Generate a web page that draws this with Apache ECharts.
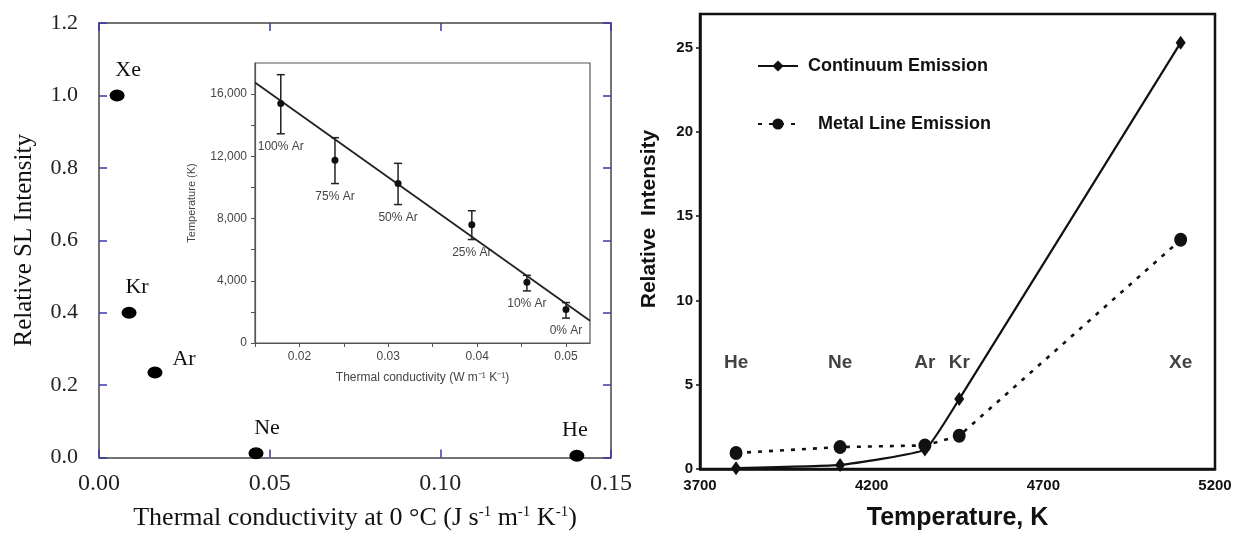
<!DOCTYPE html>
<html>
<head>
<meta charset="utf-8">
<script src="https://cdn.jsdelivr.net/npm/echarts@6/dist/echarts.min.js"></script>
<style>
  html, body { margin: 0; padding: 0; background: #fff; }
  #chart { width: 1239px; height: 536px; }
</style>
</head>
<body>
<div id="chart"></div>
<script>
// left panel: SL intensity vs thermal conductivity
const gases = ['Xe', 'Kr', 'Ar', 'Ne', 'He'];
const gasConductivity = [0.0053, 0.0088, 0.0164, 0.046, 0.140];
const gasIntensity = [1.0, 0.4, 0.235, 0.012, 0.005];

// inset: temperature vs thermal conductivity of Ar mixtures
const mixLabels = ['100% Ar', '75% Ar', '50% Ar', '25% Ar', '10% Ar', '0% Ar'];
const mixConductivity = [0.0179, 0.0240, 0.0311, 0.0394, 0.0456, 0.0500];
const mixTemperature = [15400, 11750, 10250, 7600, 3900, 2150];
const mixLow = [13450, 10250, 8900, 6650, 3350, 1600];
const mixHigh = [17250, 13200, 11550, 8500, 4350, 2600];
const fitLine = [[0.015, 16750], [0.0527, 1430]];

// right panel: emission vs temperature
const elements = ['He', 'Ne', 'Ar', 'Kr', 'Xe'];
const bubbleTemp = [3805, 4108, 4355, 4455, 5100];
const continuum = [0.05, 0.24, 1.15, 4.15, 25.3];
const metalLine = [0.95, 1.3, 1.4, 1.97, 13.6];
const elementLabelY = 6.3;

const serif = 'Liberation Serif';
const sans = 'Liberation Sans';
const blueTick = '#3a3aa8';

// label placement of the gas names in the left panel
const gasLabelPlace = {
  Xe: { position: 'top', offset: [11, 0] },
  Kr: { position: 'top', offset: [8, 0] },
  Ar: { position: 'right', offset: [2, -13] },
  Ne: { position: 'top', offset: [11, 0] },
  He: { position: 'top', offset: [-2, 0] }
};

const chart = echarts.init(document.getElementById('chart'));

const mainX = { type: 'value', gridIndex: 0, min: 0, max: 0.15, interval: 0.05 };
const mainY = { type: 'value', gridIndex: 0, min: 0, max: 1.2, interval: 0.2 };
const mainLine = { onZero: false, lineStyle: { color: '#444', width: 1.5 } };
const mainTick = { inside: true, length: 8, lineStyle: { color: blueTick, width: 1.5 } };

const option = {
  animation: false,
  backgroundColor: '#fff',
  grid: [
    { left: 99, top: 23, width: 512, height: 436 },
    { left: 255, top: 63, width: 335, height: 280, show: true, backgroundColor: '#fff',
      borderColor: '#555', borderWidth: 1.2, z: 3 },
    { left: 700, top: 14, width: 515, height: 459, show: true, borderColor: '#111', borderWidth: 2.5 }
  ],
  legend: {
    left: 752, top: 52, orient: 'vertical', itemGap: 40, itemWidth: 40, itemHeight: 14,
    data: ['Continuum Emission', 'Metal Line Emission'],
    formatter: name => name === 'Metal Line Emission' ? '   ' + name : ' ' + name,
    textStyle: { fontFamily: sans, fontWeight: 'bold', fontSize: 18, color: '#111' }
  },
  xAxis: [
    Object.assign({}, mainX, {
      position: 'bottom',
      name: 'Thermal conductivity at 0 °C (J s{sup|-1} m{sup|-1} K{sup|-1})',
      nameLocation: 'middle', nameGap: 47,
      nameTextStyle: { fontFamily: serif, fontSize: 26, color: '#111',
        rich: { sup: { fontFamily: serif, fontSize: 15, color: '#111', padding: [0, 0, 12, 0] } } },
      axisLine: mainLine,
      axisTick: mainTick,
      axisLabel: { fontFamily: serif, fontSize: 24, color: '#222', margin: 14,
        formatter: v => v.toFixed(2) },
      splitLine: { show: false }
    }),
    Object.assign({}, mainX, {
      position: 'top',
      axisLine: mainLine,
      axisTick: mainTick,
      axisLabel: { show: false },
      splitLine: { show: false }
    }),
    {
      type: 'value', gridIndex: 1, min: 0.015, max: 0.0527, interval: 0.005,
      name: 'Thermal conductivity (W m⁻¹ K⁻¹)', nameLocation: 'middle', nameGap: 29,
      nameTextStyle: { fontFamily: sans, fontSize: 12, color: '#444' },
      axisLine: { onZero: false, lineStyle: { color: '#555', width: 1.2 } },
      axisTick: { length: 4, lineStyle: { color: '#555' } },
      axisLabel: { fontFamily: sans, fontSize: 12, color: '#444', margin: 8, showMaxLabel: false,
        formatter: v => Math.abs(v * 100 - Math.round(v * 100)) < 1e-6 ? v.toFixed(2) : '' },
      splitLine: { show: false }, z: 4
    },
    {
      type: 'value', gridIndex: 2, min: 3700, max: 5200, interval: 500,
      name: 'Temperature, K', nameLocation: 'middle', nameGap: 37,
      nameTextStyle: { fontFamily: sans, fontWeight: 'bold', fontSize: 25, color: '#111' },
      axisLine: { onZero: false, lineStyle: { color: '#111', width: 2.5 } },
      axisTick: { show: false },
      axisLabel: { fontFamily: sans, fontWeight: 'bold', fontSize: 15, color: '#111', margin: 9,
        formatter: v => String(v) },
      splitLine: { show: false }
    }
  ],
  yAxis: [
    Object.assign({}, mainY, {
      position: 'left',
      name: 'Relative SL Intensity', nameLocation: 'middle', nameGap: 62,
      nameTextStyle: { fontFamily: serif, fontSize: 25, color: '#111' },
      axisLine: mainLine,
      axisTick: mainTick,
      axisLabel: { fontFamily: serif, fontSize: 22, color: '#222', margin: 21,
        formatter: v => v.toFixed(1) },
      splitLine: { show: false }
    }),
    Object.assign({}, mainY, {
      position: 'right',
      axisLine: mainLine,
      axisTick: mainTick,
      axisLabel: { show: false },
      splitLine: { show: false }
    }),
    {
      type: 'value', gridIndex: 1, min: 0, max: 18000, interval: 2000,
      name: 'Temperature (K)', nameLocation: 'middle', nameGap: 58,
      nameTextStyle: { fontFamily: sans, fontSize: 11, color: '#444' },
      axisLine: { onZero: false, lineStyle: { color: '#555', width: 1.2 } },
      axisTick: { length: 4, lineStyle: { color: '#555' } },
      axisLabel: { fontFamily: sans, fontSize: 12, color: '#444', margin: 8, showMaxLabel: false,
        formatter: v => v % 4000 === 0 ? v.toLocaleString('en-US') : '' },
      splitLine: { show: false }, z: 4
    },
    {
      type: 'value', gridIndex: 2, min: 0, max: 27, interval: 5,
      name: 'Relative  Intensity', nameLocation: 'middle', nameGap: 40,
      nameTextStyle: { fontFamily: sans, fontWeight: 'bold', fontSize: 21, color: '#111',
        padding: [0, 0, 0, 45] },
      axisLine: { onZero: false, lineStyle: { color: '#111', width: 2.5 } },
      axisTick: { length: 4, lineStyle: { color: '#111', width: 1.5 } },
      axisLabel: { fontFamily: sans, fontWeight: 'bold', fontSize: 15, color: '#111', margin: 7,
        showMaxLabel: false },
      splitLine: { show: false }
    }
  ],
  series: [
    {
      type: 'scatter', xAxisIndex: 0, yAxisIndex: 0,
      symbol: 'circle', symbolSize: [15, 12],
      itemStyle: { color: '#000', opacity: 1 },
      data: gases.map((g, i) => ({
        value: [gasConductivity[i], gasIntensity[i]],
        label: Object.assign({ show: true, formatter: g, distance: 8,
          fontFamily: serif, fontSize: 22, color: '#111' }, gasLabelPlace[g])
      }))
    },
    {
      type: 'line', xAxisIndex: 2, yAxisIndex: 2, z: 5,
      data: fitLine, symbol: 'none',
      lineStyle: { color: '#222', width: 1.8 }
    },
    {
      type: 'custom', xAxisIndex: 2, yAxisIndex: 2, z: 5,
      data: mixConductivity.map((c, i) => [c, mixLow[i], mixHigh[i]]),
      encode: { x: 0, y: [1, 2] },
      renderItem: (params, api) => {
        const top = api.coord([api.value(0), api.value(2)]);
        const bot = api.coord([api.value(0), api.value(1)]);
        const cap = 4;
        const st = { stroke: '#222', lineWidth: 1.5 };
        return {
          type: 'group',
          children: [
            { type: 'line', shape: { x1: top[0], y1: top[1], x2: bot[0], y2: bot[1] }, style: st },
            { type: 'line', shape: { x1: top[0] - cap, y1: top[1], x2: top[0] + cap, y2: top[1] }, style: st },
            { type: 'line', shape: { x1: bot[0] - cap, y1: bot[1], x2: bot[0] + cap, y2: bot[1] }, style: st },
            { type: 'text', x: bot[0], y: bot[1] + 13,
              style: { text: mixLabels[params.dataIndex], align: 'center', verticalAlign: 'middle',
                fontFamily: sans, fontSize: 12, fill: '#444' } }
          ]
        };
      }
    },
    {
      type: 'scatter', xAxisIndex: 2, yAxisIndex: 2, z: 6,
      symbolSize: 7, itemStyle: { color: '#111', opacity: 1 },
      data: mixConductivity.map((c, i) => [c, mixTemperature[i]])
    },
    {
      name: 'Continuum Emission', type: 'line', xAxisIndex: 3, yAxisIndex: 3,
      smooth: 0.12,
      symbol: 'diamond', symbolSize: [10, 14],
      itemStyle: { color: '#111' },
      lineStyle: { color: '#111', width: 2.2 },
      data: bubbleTemp.map((t, i) => [t, continuum[i]])
    },
    {
      name: 'Metal Line Emission', type: 'line', xAxisIndex: 3, yAxisIndex: 3,
      symbol: 'circle', symbolSize: [13, 14],
      itemStyle: { color: '#111' },
      lineStyle: { color: '#111', width: 2.6, type: [4, 7] },
      data: bubbleTemp.map((t, i) => [t, metalLine[i]])
    },
    {
      type: 'scatter', xAxisIndex: 3, yAxisIndex: 3, symbolSize: 0, silent: true,
      label: { show: true, position: 'inside', formatter: p => p.value[2],
        fontFamily: sans, fontWeight: 'bold', fontSize: 19, color: '#111' },
      data: elements.map((e, i) => [bubbleTemp[i], elementLabelY, e])
    }
  ]
};

chart.setOption(option);
</script>
</body>
</html>
